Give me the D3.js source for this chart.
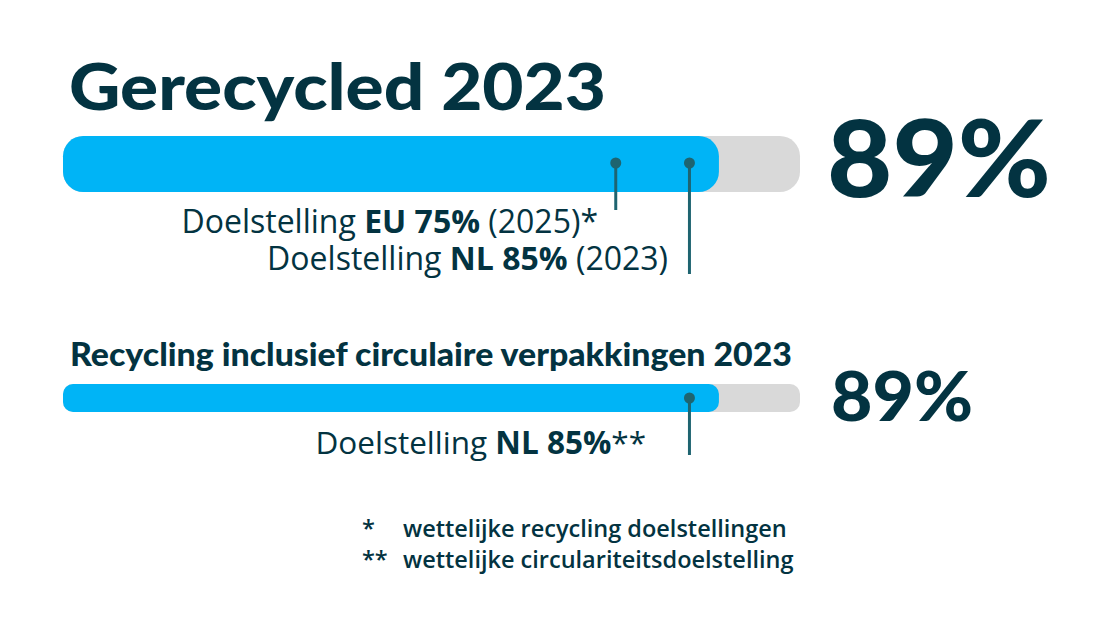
<!DOCTYPE html>
<html><head><meta charset="utf-8">
<script src="https://cdn.jsdelivr.net/npm/d3@7"></script>
<style>body{margin:0;background:#fff}svg{display:block}</style>
</head><body>
<svg id="c" width="1112" height="633"></svg>
<script>
const titles = ["Gerecycled 2023", "Recycling inclusief circulaire verpakkingen 2023"];
const values = [89, 89];
const valueLabels = ["89%", "89%"];
const targets1 = [75, 85];
const targetLabels1 = [["Doelstelling ", "EU 75%", " (2025)*"], ["Doelstelling ", "NL 85%", " (2023)"]];
const targets2 = [85];
const targetLabels2 = [["Doelstelling ", "NL 85%", "**"]];
const footMarks = ["*", "**"];
const footTexts = ["wettelijke recycling doelstellingen", "wettelijke circulariteitsdoelstelling"];

const dark = "#033341", blue = "#00b4f6", grey = "#d9d9d9", mark = "#1e6470";
const svg = d3.select("#c");
const x = d3.scaleLinear().domain([0, 100]).range([63, 800]);

// Title 1
svg.append("text").attr("x", 69).attr("y", 110).attr("font-family", "Lato").attr("font-weight", 900)
  .attr("font-size", 64).attr("fill", dark).attr("textLength", 537).attr("lengthAdjust","spacingAndGlyphs").text(titles[0]);

function bar(y, h, v) {
  svg.append("rect").attr("x", x(0)).attr("y", y).attr("width", x(100) - x(0)).attr("height", h)
    .attr("rx", h * 0.36).attr("fill", grey);
  svg.append("rect").attr("x", x(0)).attr("y", y).attr("width", x(v) - x(0)).attr("height", h)
    .attr("rx", h * 0.36).attr("fill", blue);
}
bar(136, 56, values[0]);
bar(384, 28, values[1]);

function marker(t, cy, y2) {
  svg.append("line").attr("x1", x(t)).attr("x2", x(t)).attr("y1", cy).attr("y2", y2)
    .attr("stroke", mark).attr("stroke-width", 3);
  svg.append("circle").attr("cx", x(t)).attr("cy", cy).attr("r", 5.5).attr("fill", mark);
}
marker(targets1[0], 163, 210);
marker(targets1[1], 163, 274);
marker(targets2[0], 398, 455);

function label(parts, xr, y, size) {
  const t = svg.append("text").attr("x", xr).attr("y", y).attr("text-anchor", "end")
    .attr("font-family", "Open Sans").attr("font-size", size).attr("fill", dark);
  parts.forEach((p, i) => t.append("tspan").attr("font-weight", i === 1 ? 700 : 400).text(p));
}
label(targetLabels1[0], 598, 233, 32);
label(targetLabels1[1], 668, 270, 32);
label(targetLabels2[0], 646, 454, 31.5);

// Big values
svg.append("text").attr("x", 827).attr("y", 197).attr("font-family", "Lato").attr("font-weight", 900)
  .attr("font-size", 106).attr("fill", dark).attr("textLength", 224).attr("lengthAdjust","spacingAndGlyphs").text(valueLabels[0]);
svg.append("text").attr("x", 831).attr("y", 421).attr("font-family", "Lato").attr("font-weight", 900)
  .attr("font-size", 68).attr("fill", dark).attr("textLength", 142).attr("lengthAdjust","spacingAndGlyphs").text(valueLabels[1]);

// Title 2
svg.append("text").attr("x", 70).attr("y", 366).attr("font-family", "Lato").attr("font-weight", 900)
  .attr("font-size", 32).attr("fill", dark).attr("textLength", 722).attr("lengthAdjust","spacingAndGlyphs").text(titles[1]);

// Footnotes
footMarks.forEach((m, i) => {
  svg.append("text").attr("x", 362).attr("y", 537 + i * 31).attr("font-family", "Open Sans").attr("font-weight", 600)
    .attr("font-size", 23.5).attr("fill", dark).text(m);
  svg.append("text").attr("x", 403).attr("y", 537 + i * 31).attr("font-family", "Open Sans").attr("font-weight", 600)
    .attr("font-size", 23.5).attr("fill", dark).text(footTexts[i]);
});
</script>
</body></html>
